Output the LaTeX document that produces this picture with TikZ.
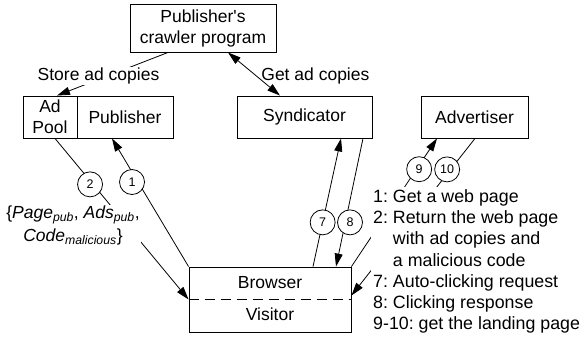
\documentclass[tikz,border=0pt]{standalone}
\usepackage{fontspec}
\setmainfont{Liberation Sans}
\usetikzlibrary{arrows.meta}
\frenchspacing

\tikzset{
  box/.style={draw, line width=0.9pt, inner sep=0pt, align=center, font=\fontsize{17.5}{21}\selectfont},
  num/.style={draw, circle, fill=white, minimum size=25pt, inner sep=0pt, line width=0.8pt, font=\fontsize{12.5}{14}\selectfont},
  conn/.style={line width=0.8pt},
  tip/.style={-{Triangle[length=13pt,width=8pt]}},
  lbl/.style={fill=white, inner sep=1pt, font=\fontsize{17.5}{21}\selectfont},
}

\begin{document}
\begin{tikzpicture}[x=1pt, y=-1pt]
\useasboundingbox (0,0) rectangle (581,341);

\node[box, minimum width=146pt, minimum height=48pt] (crawler) at (203,28) {Publisher\textquotesingle s\\crawler program};
\node[box, minimum width=54pt, minimum height=42pt] (adpool) at (50,117) {Ad\\Pool};
\node[box, minimum width=96pt, minimum height=42pt] (publisher) at (125,117) {Publisher};
\node[box, minimum width=135pt, minimum height=42pt] (syndicator) at (304.5,117) {Syndicator};
\node[box, minimum width=107pt, minimum height=42pt] (advertiser) at (474.5,117) {Advertiser};
\node[box, minimum width=162pt, minimum height=65pt] (browser) at (270,299.5) {};
\node[font=\fontsize{17.5}{21}\selectfont, anchor=base] (brtext) at (270,288) {Browser};
\node[font=\fontsize{17.5}{21}\selectfont, anchor=base] (vistext) at (270,320) {Visitor};
\draw[line width=0.8pt, dash pattern=on 10pt off 6pt] (browser.west) -- (browser.east);

\draw[conn, tip] ([xshift=-35pt]crawler.south) -- node[lbl, pos=0.5, xshift=-14pt, yshift=-2pt] (storelbl) {Store ad copies} ([xshift=7pt]adpool.north);
\draw[conn, {Triangle[length=13pt,width=8pt]}-{Triangle[length=13pt,width=8pt]}] ([xshift=25pt]crawler.south) -- node[pos=0.5, anchor=west, xshift=6pt, yshift=-2pt, inner sep=1pt, font=\fontsize{17.5}{21}\selectfont] (getlbl) {Get ad copies} ([xshift=-24.5pt]syndicator.north);

\draw[conn, tip] (browser.north west) -- node[num, pos=0.66, xshift=-6pt] (n1) {1} ([xshift=-13pt]publisher.south);
\draw[conn, tip] ([xshift=5pt]adpool.south) -- node[lbl, pos=0.539, xshift=-54pt, font=\fontsize{17.5}{23}\selectfont, align=center] (datalbl) {\{\textit{Page}\textsubscript{\textit{pub}}, \textit{Ads}\textsubscript{\textit{pub}},\\\textit{Code}\textsubscript{\textit{malicious}}\}} node[num, pos=0.285, xshift=-3pt] (n2) {2} (browser.west);

\draw[conn, tip] ([xshift=43pt]browser.north) -- node[num, pos=0.345] (n7) {7} ([xshift=36.5pt]syndicator.south);
\draw[conn, tip] ([xshift=58.5pt]syndicator.south) -- node[num, pos=0.655, xshift=4.7pt] (n8) {8} ([xshift=66pt]browser.north);

\draw[conn, tip] (browser.north east) -- node[num, pos=0.76, xshift=2.7pt] (n9) {9} ([xshift=-37.5pt]advertiser.south);
\draw[conn, tip] ([xshift=0.5pt]advertiser.south) -- node[num, pos=0.197, xshift=-3.5pt] (n10) {10} ([yshift=4pt]browser.east);

\node[lbl, anchor=north west, align=left, inner sep=2pt, font=\fontsize{17.8}{21.3}\selectfont] (legend) at (371,187)
  {1: Get a web page\\2: Return the web page\\\hphantom{2:\ }with ad copies and\\\hphantom{2:\ }a malicious code\\7: Auto-clicking request\\8: Clicking response\\9-10: get the landing page};
\end{tikzpicture}
\end{document}
